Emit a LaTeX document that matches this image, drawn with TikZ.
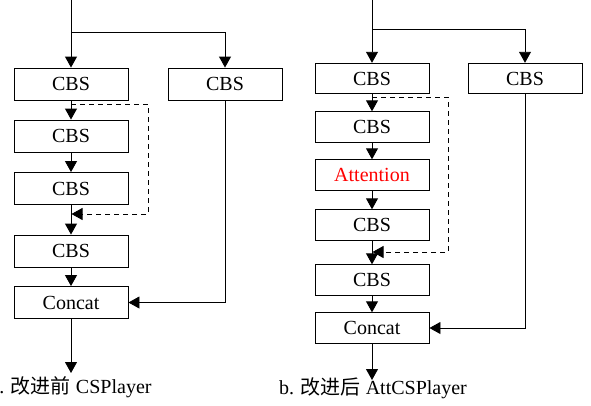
\documentclass[tikz,border=0pt]{standalone}
\usepackage{fontspec}
\setmainfont{Liberation Serif}
\newfontfamily\cjk{Noto Sans CJK SC}
\usetikzlibrary{arrows.meta}
\begin{document}
\begin{tikzpicture}[x=1pt,y=-1pt,
  box/.style={draw, line width=0.9pt, minimum width=114pt, minimum height=32pt, inner sep=0pt,
              font=\fontsize{20}{22}\selectfont},
  rbox/.style={box, minimum height=30.5pt},
  arr/.style={-{Triangle[length=11pt,width=12pt]}, line width=0.9pt},
  dasharr/.style={arr, dash pattern=on 5pt off 4pt},
  captxt/.style={anchor=base, inner sep=0pt, font=\fontsize{20}{22}\selectfont}]
\useasboundingbox (0,0) rectangle (591,405);

% ---------- (a) ----------
\coordinate (atop) at (71,0);
\coordinate (abr) at (71,32);
\coordinate (abr2) at (225,32);
\node[box] (a1) at (71,84) {CBS};
\node[box] (ar) at (225,84) {CBS};
\node[box] (a2) at (71,136) {CBS};
\node[box] (a3) at (71,188.5) {CBS};
\node[box] (a4) at (71,251) {CBS};
\node[box] (ac) at (71,302.5) {Concat};
\coordinate (aout) at (71,373);
\coordinate (ad1) at (71,104);
\coordinate (ad2) at (148,104);
\coordinate (ad3) at (148,214);
\coordinate (ad4) at (71.5,214);
\coordinate (arc) at (225,302.5);

\draw[arr] (atop) -- (a1.north);
\draw[arr] (abr) -- (abr2) -- (ar.north);
\draw[arr] (a1.south) -- (a2.north);
\draw[arr] (a2.south) -- (a3.north);
\draw[arr] (a3.south) -- (a4.north);
\draw[arr] (a4.south) -- (ac.north);
\draw[arr] (ac.south) -- (aout);
\draw[arr] (ar.south) -- (arc) -- (ac.east);
\draw[dasharr] (ad1) -- (ad2) -- (ad3) -- (ad4);
\node[captxt] (acap) at (71,393) {a. {\cjk 改进前} CSPlayer};

% ---------- (b) ----------
\coordinate (btop) at (372,0);
\coordinate (bbr) at (372,29);
\coordinate (bbr2) at (525,29);
\node[rbox] (b1) at (372,78.5) {CBS};
\node[rbox] (br) at (525,78.5) {CBS};
\node[rbox] (b2) at (372,127) {CBS};
\node[rbox, text=red] (batt) at (372,175) {Attention};
\node[rbox] (b3) at (372,225) {CBS};
\node[rbox] (b4) at (372,280) {CBS};
\node[rbox] (bc) at (372,328) {Concat};
\coordinate (bout) at (372,380);
\coordinate (bd1) at (372,97);
\coordinate (bd2) at (448,97);
\coordinate (bd3) at (448,252);
\coordinate (bd4) at (372.5,252);
\coordinate (brc) at (525,328);

\draw[arr] (btop) -- (b1.north);
\draw[arr] (bbr) -- (bbr2) -- (br.north);
\draw[arr] (b1.south) -- (b2.north);
\draw[arr] (b2.south) -- (batt.north);
\draw[arr] (batt.south) -- (b3.north);
\draw[arr] (b3.south) -- (b4.north);
\draw[arr] (b4.south) -- (bc.north);
\draw[arr] (bc.south) -- (bout);
\draw[arr] (br.south) -- (brc) -- (bc.east);
\draw[dasharr] (bd1) -- (bd2) -- (bd3) -- (bd4);
\node[captxt] (bcap) at (373,394) {b. {\cjk 改进后} AttCSPlayer};
\end{tikzpicture}
\end{document}
